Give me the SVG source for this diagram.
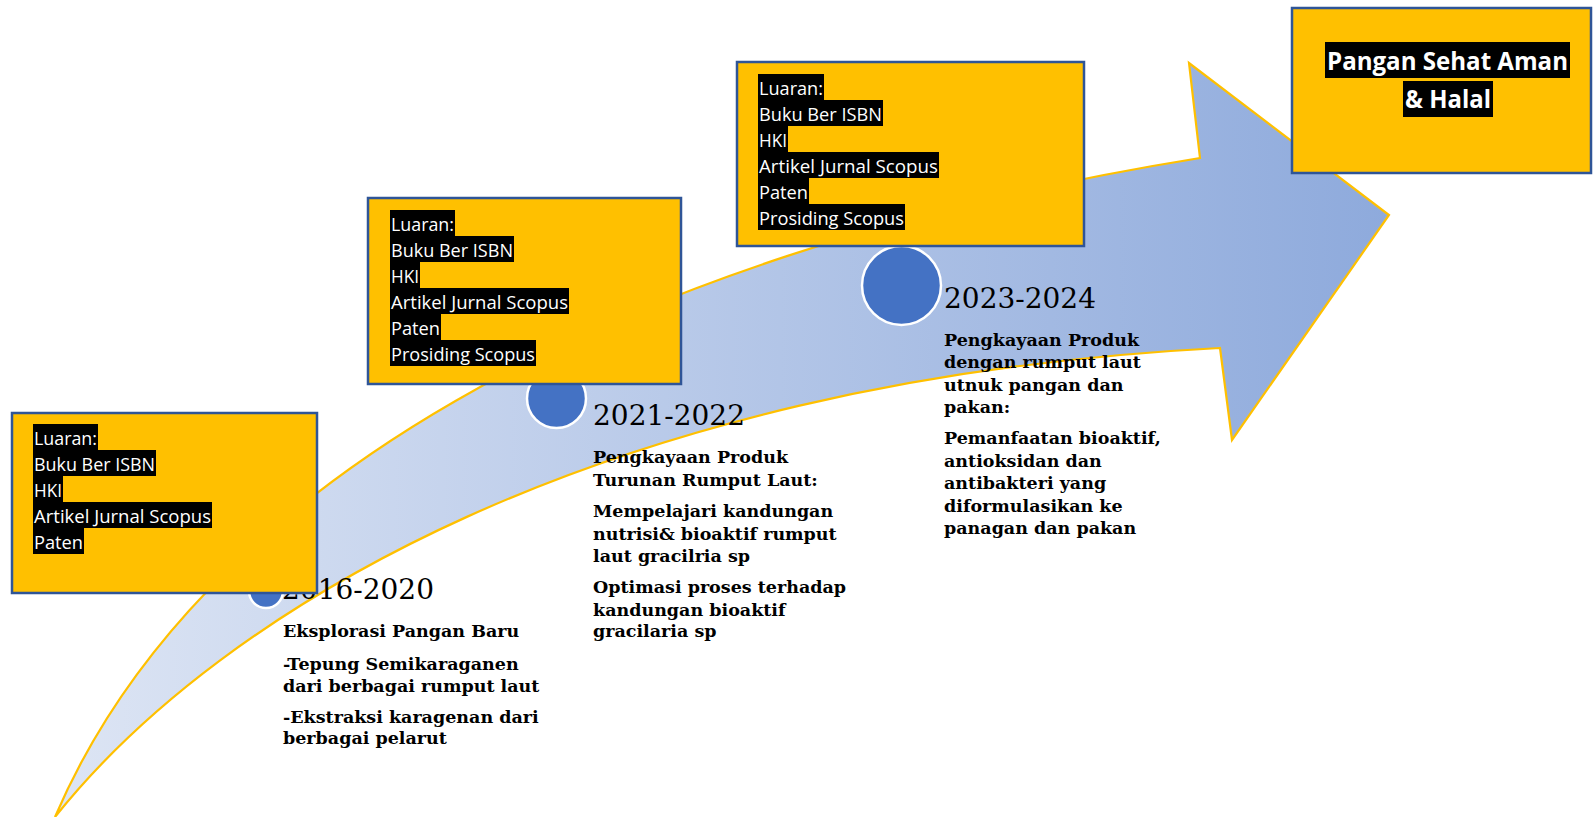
<svg xmlns="http://www.w3.org/2000/svg" width="1594" height="817" viewBox="0 0 1594 817">
<defs>
<linearGradient id="arrowGrad" gradientUnits="userSpaceOnUse" x1="55" y1="0" x2="1389" y2="0">
<stop offset="0" stop-color="#dde5f4"/>
<stop offset="1" stop-color="#8eaadc"/>
</linearGradient>
<style>
.box{fill:#ffc000;stroke:#2f5597;stroke-width:2.5}
.hl{fill:#000}
.lbl{font-family:"Open Sans","Liberation Sans",sans-serif;font-size:18px;fill:#fff}
.ttl{font-family:"Open Sans","Liberation Sans",sans-serif;font-size:25px;font-weight:bold;fill:#fff;text-anchor:middle}
.dot{fill:#4472c4;stroke:#fff;stroke-width:2.5}
.yr{font-family:"DejaVu Serif","Liberation Serif",serif;font-size:28px;fill:#000}
.body{font-family:"DejaVu Serif","Liberation Serif",serif;font-size:17.5px;font-weight:bold;fill:#000}
</style>
</defs>
<rect width="1594" height="817" fill="#fff"/>
<g id="connectors">
<path id="timeline-arrow" d="M55,817 C195,490 600,255 1200,158 L1189,63 L1389,215 L1232,440 L1220,348 C600,380 220,610 55,817 Z" fill="url(#arrowGrad)" stroke="#ffc000" stroke-width="2.2" stroke-linejoin="miter"/>
</g>
<g id="milestone-2016">
<circle class="dot" cx="266" cy="591" r="17"/>
<text class="yr" x="282" y="599">2016-2020</text>
<text class="body" x="283" y="637">Eksplorasi Pangan Baru</text>
<text class="body" x="283" y="670">-Tepung Semikaraganen</text>
<text class="body" x="283" y="692">dari berbagai rumput laut</text>
<text class="body" x="283" y="723">-Ekstraksi karagenan dari</text>
<text class="body" x="283" y="744">berbagai pelarut</text>
</g>
<g id="milestone-2021">
<circle class="dot" cx="556.5" cy="398.5" r="29.5"/>
<text class="yr" x="593" y="425">2021-2022</text>
<text class="body" x="593" y="463">Pengkayaan Produk</text>
<text class="body" x="593" y="486">Turunan Rumput Laut:</text>
<text class="body" x="593" y="517">Mempelajari kandungan</text>
<text class="body" x="593" y="540">nutrisi&amp; bioaktif rumput</text>
<text class="body" x="593" y="562">laut gracilria sp</text>
<text class="body" x="593" y="593">Optimasi proses terhadap</text>
<text class="body" x="593" y="616">kandungan bioaktif</text>
<text class="body" x="593" y="637">gracilaria sp</text>
</g>
<g id="milestone-2023">
<circle class="dot" cx="901.5" cy="285.5" r="39.5"/>
<text class="yr" x="944" y="308">2023-2024</text>
<text class="body" x="944" y="346">Pengkayaan Produk</text>
<text class="body" x="944" y="368">dengan rumput laut</text>
<text class="body" x="944" y="391">utnuk pangan dan</text>
<text class="body" x="944" y="413">pakan:</text>
<text class="body" x="944" y="444">Pemanfaatan bioaktif,</text>
<text class="body" x="944" y="467">antioksidan dan</text>
<text class="body" x="944" y="489">antibakteri yang</text>
<text class="body" x="944" y="512">diformulasikan ke</text>
<text class="body" x="944" y="534">panagan dan pakan</text>
</g>
<g id="luaran-1">
<rect class="box" x="12" y="413" width="305" height="180"/>
<rect class="hl" x="33" y="424" width="65" height="26"/>
<rect class="hl" x="33" y="450" width="123" height="26"/>
<rect class="hl" x="33" y="476" width="30" height="26"/>
<rect class="hl" x="33" y="502" width="179" height="26"/>
<rect class="hl" x="33" y="528" width="51" height="26"/>
<text class="lbl" x="34" y="445" textLength="63" lengthAdjust="spacingAndGlyphs">Luaran:</text>
<text class="lbl" x="34" y="471" textLength="121" lengthAdjust="spacingAndGlyphs">Buku Ber ISBN</text>
<text class="lbl" x="34" y="497" textLength="28" lengthAdjust="spacingAndGlyphs">HKI</text>
<text class="lbl" x="34" y="523" textLength="177" lengthAdjust="spacingAndGlyphs">Artikel Jurnal Scopus</text>
<text class="lbl" x="34" y="549" textLength="49" lengthAdjust="spacingAndGlyphs">Paten</text>
</g>
<g id="luaran-2">
<rect class="box" x="368" y="198" width="313" height="186"/>
<rect class="hl" x="390" y="210" width="65" height="26"/>
<rect class="hl" x="390" y="236" width="124" height="26"/>
<rect class="hl" x="390" y="262" width="30" height="26"/>
<rect class="hl" x="390" y="288" width="179" height="26"/>
<rect class="hl" x="390" y="314" width="51" height="26"/>
<rect class="hl" x="390" y="340" width="146" height="26"/>
<text class="lbl" x="391" y="231" textLength="63" lengthAdjust="spacingAndGlyphs">Luaran:</text>
<text class="lbl" x="391" y="257" textLength="122" lengthAdjust="spacingAndGlyphs">Buku Ber ISBN</text>
<text class="lbl" x="391" y="283" textLength="28" lengthAdjust="spacingAndGlyphs">HKI</text>
<text class="lbl" x="391" y="309" textLength="177" lengthAdjust="spacingAndGlyphs">Artikel Jurnal Scopus</text>
<text class="lbl" x="391" y="335" textLength="49" lengthAdjust="spacingAndGlyphs">Paten</text>
<text class="lbl" x="391" y="361" textLength="144" lengthAdjust="spacingAndGlyphs">Prosiding Scopus</text>
</g>
<g id="luaran-3">
<rect class="box" x="737" y="62" width="347" height="184"/>
<rect class="hl" x="758" y="74" width="66" height="26"/>
<rect class="hl" x="758" y="100" width="125" height="26"/>
<rect class="hl" x="758" y="126" width="30" height="26"/>
<rect class="hl" x="758" y="152" width="181" height="26"/>
<rect class="hl" x="758" y="178" width="51" height="26"/>
<rect class="hl" x="758" y="204" width="147" height="26"/>
<text class="lbl" x="759" y="95" textLength="64" lengthAdjust="spacingAndGlyphs">Luaran:</text>
<text class="lbl" x="759" y="121" textLength="123" lengthAdjust="spacingAndGlyphs">Buku Ber ISBN</text>
<text class="lbl" x="759" y="147" textLength="28" lengthAdjust="spacingAndGlyphs">HKI</text>
<text class="lbl" x="759" y="173" textLength="179" lengthAdjust="spacingAndGlyphs">Artikel Jurnal Scopus</text>
<text class="lbl" x="759" y="199" textLength="49" lengthAdjust="spacingAndGlyphs">Paten</text>
<text class="lbl" x="759" y="225" textLength="145" lengthAdjust="spacingAndGlyphs">Prosiding Scopus</text>
</g>
<g id="goal">
<rect class="box" x="1292" y="8" width="299" height="165"/>
<rect class="hl" x="1325" y="42" width="245" height="36"/>
<rect class="hl" x="1403" y="81" width="90" height="36"/>
<text class="ttl" x="1447.5" y="70" textLength="241" lengthAdjust="spacingAndGlyphs">Pangan Sehat Aman</text>
<text class="ttl" x="1448" y="108" textLength="86" lengthAdjust="spacingAndGlyphs">&amp; Halal</text>
</g>
</svg>
